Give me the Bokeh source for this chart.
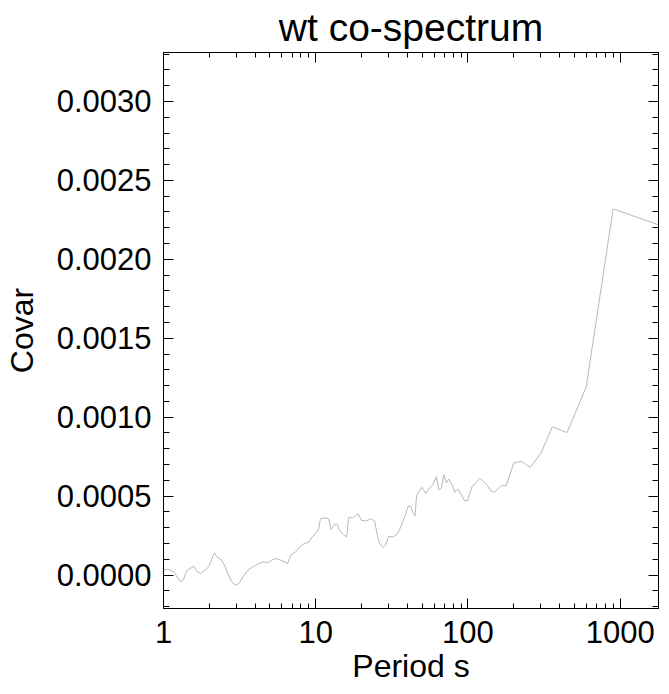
from bokeh.plotting import figure
from bokeh.models import (FixedTicker, PrintfTickFormatter, LogAxis, LinearAxis,
                          Range1d, CustomJSTickFormatter)
from bokeh.embed import file_html
from bokeh.resources import INLINE

# ---- data (period in s, covariance) ----
period = [1.01, 1.06, 1.17, 1.26, 1.32, 1.36, 1.43, 1.54, 1.58, 1.66,
          1.75, 1.84, 1.98, 2.08, 2.16, 2.24, 2.41, 2.54, 2.67, 2.80,
          2.97, 3.13, 3.33, 3.59, 3.87, 4.17, 4.49, 4.84, 5.22, 5.48,
          5.90, 6.53, 6.85, 7.39, 7.77, 8.37, 9.02, 9.48, 9.95, 10.47,
          10.73, 11.28, 12.16, 12.59, 13.10, 13.76, 14.33, 15.21, 15.98, 16.39,
          17.66, 19.02, 19.98, 21.54, 22.86, 24.38, 25.27, 26.27, 27.63, 28.72,
          30.21, 32.08, 34.05, 35.40, 36.85, 38.71, 40.49, 42.16, 43.24, 44.95,
          45.90, 49.66, 52.72, 55.39, 58.80, 62.14, 64.32, 66.96, 69.29, 72.14,
          74.65, 78.52, 81.64, 85.88, 91.15, 94.78, 99.7, 105.8, 119.8, 132.4,
          142.7, 149.8, 165.6, 178.4, 199.8, 223.2, 256.4, 300.8, 357.7, 447.5,
          597.5, 898.2, 1784.0]
covar = [0.0000315, 0.0000378, 0.0000208, -0.0000315, -0.0000422, -0.0000214, 0.0000315, 0.0000479, 0.0000567, 0.0000208,
         0.0000101, 0.0000252, 0.0000523, 0.0001045, 0.0001404, 0.0001152, 0.0000945, 0.0000523, 0.0000000, -0.0000422,
         -0.0000630, -0.0000529, -0.0000107, 0.0000315, 0.0000523, 0.0000693, 0.0000838, 0.0000775, 0.0000982, 0.0001045,
         0.0000945, 0.0000730, 0.0001260, 0.0001467, 0.0001738, 0.0001990, 0.0002097, 0.0002412, 0.0002620, 0.0002935,
         0.0003564, 0.0003627, 0.0003564, 0.0002872, 0.0003149, 0.0003249, 0.0002834, 0.0002557, 0.0002412, 0.0003627,
         0.0003627, 0.0003879, 0.0003463, 0.0003419, 0.0003564, 0.0003419, 0.0002620, 0.0001990, 0.0001738, 0.0001889,
         0.0002456, 0.0002412, 0.0002582, 0.0002834, 0.0003249, 0.0003778, 0.0004364, 0.0004345, 0.0003986, 0.0003734,
         0.0005038, 0.0005560, 0.0005183, 0.0005453, 0.0005731, 0.0006234, 0.0005390, 0.0005516, 0.0006360, 0.0005831,
         0.0006083, 0.0005731, 0.0005246, 0.0005453, 0.0005038, 0.0004723, 0.0004723, 0.0005560, 0.0006127, 0.0005731,
         0.0005309, 0.0005246, 0.0005668, 0.0005668, 0.0007091, 0.0007198, 0.0006820, 0.0007702, 0.0009383, 0.0009024,
         0.0011902, 0.0023193, 0.0022185]

x_major = [1, 10, 100, 1000]
x_minor = [2, 3, 4, 5, 6, 7, 8, 9, 20, 30, 40, 50, 60, 70, 80, 90,
           200, 300, 400, 500, 600, 700, 800, 900]
y_major = [0.0, 0.0005, 0.0010, 0.0015, 0.0020, 0.0025, 0.0030]
y_minor = [-0.0002, -0.0001, 0.0001, 0.0002, 0.0003, 0.0004, 0.0006, 0.0007, 0.0008,
           0.0009, 0.0011, 0.0012, 0.0013, 0.0014, 0.0016, 0.0017, 0.0018, 0.0019,
           0.0021, 0.0022, 0.0023, 0.0024, 0.0026, 0.0027, 0.0028, 0.0029,
           0.0031, 0.0032, 0.0033]
x_title = "Period s"
y_title = "Covar"
title = "wt co-spectrum"

FONT = "Liberation Sans"

p = figure(width=661, height=686, x_axis_type="log",
           x_range=Range1d(1, 1784), y_range=Range1d(-0.000212, 0.00331),
           output_backend="svg", toolbar_location=None,
           title=title,
           min_border_left=0, min_border_right=3, min_border_top=0, min_border_bottom=0)

p.title.text_font = FONT
p.title.text_font_size = "39px"
p.title.text_font_style = "normal"
p.title.text_color = "black"
p.title.align = "center"
p.title.standoff = 7
p.title.offset = 0

p.xgrid.visible = False
p.ygrid.visible = False
p.outline_line_color = "black"
p.background_fill_color = "white"
p.border_fill_color = "white"

xt = FixedTicker(ticks=x_major, minor_ticks=x_minor)
yt = FixedTicker(ticks=y_major, minor_ticks=y_minor)

p.add_layout(LogAxis(), "above")
p.add_layout(LinearAxis(), "right")

def base_style(ax, minor_len):
    ax.axis_line_color = "black"
    ax.axis_line_width = 1
    ax.major_tick_in = 10
    ax.major_tick_out = 0
    ax.minor_tick_in = minor_len
    ax.minor_tick_out = 0
    ax.major_tick_line_color = "black"
    ax.minor_tick_line_color = "black"
    ax.major_label_text_font = FONT
    ax.major_label_text_font_size = "31px"
    ax.major_label_text_color = "black"
    ax.axis_label_text_font = FONT
    ax.axis_label_text_font_size = "32px"
    ax.axis_label_text_font_style = "normal"
    ax.axis_label_text_color = "black"

for ax in p.xaxis:
    ax.ticker = xt
    base_style(ax, 5)
for ax in p.yaxis:
    ax.ticker = yt
    base_style(ax, 6)

bottom = p.below[0]
bottom.formatter = PrintfTickFormatter(format="%d")
bottom.major_label_standoff = 12
bottom.axis_label = x_title
bottom.axis_label_standoff = 2

left = p.left[0]
left.formatter = PrintfTickFormatter(format="%.4f")
left.major_label_standoff = 12
left.axis_label = y_title
left.axis_label_standoff = 14

blank = CustomJSTickFormatter(code="return ''")
for ax in (p.above[-1], p.right[0]):
    ax.formatter = blank
    ax.major_label_text_font_size = "0px"
    ax.major_label_standoff = 0

p.line(period, covar, line_color="#b8b8b8", line_width=1)

open("out.html", "w").write(file_html(p, INLINE))
